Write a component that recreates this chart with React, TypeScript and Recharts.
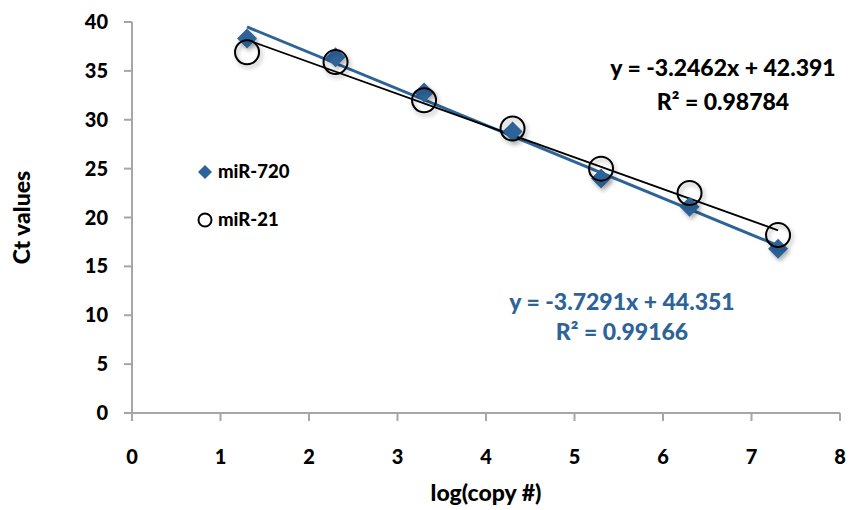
import React from 'react';
import { ComposedChart, Scatter, XAxis, YAxis, ReferenceLine, Label } from 'recharts';

const xTicks = [0, 1, 2, 3, 4, 5, 6, 7, 8];
const yTicks = [0, 5, 10, 15, 20, 25, 30, 35, 40];

const logCopies = [1.3, 2.3, 3.3, 4.3, 5.3, 6.3, 7.3];
const mir720Ct = [38.3, 36.4, 32.8, 28.8, 24.0, 21.1, 16.8];
const mir21Ct = [36.9, 35.9, 32.0, 29.1, 25.0, 22.5, 18.2];

// trendline endpoints (from the displayed regression equations)
const mir720Trend = [
  { x: 1.3, y: 39.5 },
  { x: 7.3, y: 17.13 },
];
const mir21Trend = [
  { x: 1.3, y: 38.17 },
  { x: 7.3, y: 18.69 },
];

const BLUE = '#2E6399';
const AXIS = '#A6A6A6';
const FONT = 'Lato, "Open Sans", sans-serif';
const W = 900;
const TICK_FS = 20;

const mir720Data = logCopies.map((x, i) => ({ x, y: mir720Ct[i] }));
const mir21Data = logCopies.map((x, i) => ({ x, y: mir21Ct[i] }));

const Diamond = (props: any) => {
  const { cx, cy } = props;
  const r = 10;
  return (
    <path
      d={`M${cx},${cy - r} L${cx + r},${cy} L${cx},${cy + r} L${cx - r},${cy} Z`}
      fill={BLUE}
      filter="url(#mkShadow)"
    />
  );
};

const Ring = (props: any) => {
  const { cx, cy } = props;
  return <circle cx={cx} cy={cy} r={12} fill="none" stroke="#000" strokeWidth={2} filter="url(#mkShadow)" />;
};

const XTick = (props: any) => {
  const { x, y, payload } = props;
  return (
    <text x={x} y={y + 15} textAnchor="middle" fontSize={TICK_FS} fontWeight={W} fontFamily={FONT} fill="#000">
      {payload.value}
    </text>
  );
};

const YTick = (props: any) => {
  const { x, y, payload } = props;
  return (
    <text x={x} y={y + 7} textAnchor="end" fontSize={TICK_FS} fontWeight={W} fontFamily={FONT} fill="#000">
      {payload.value}
    </text>
  );
};

export default function App() {
  return (
    <div style={{ position: 'absolute', left: 0, top: 0, width: 850, height: 510, background: '#fff' }}>
      <svg width={0} height={0} style={{ position: 'absolute' }}>
        <defs>
          <filter id="mkShadow" x="-50%" y="-50%" width="200%" height="200%">
            <feDropShadow dx={2} dy={3} stdDeviation={2} floodColor="#000" floodOpacity={0.3} />
          </filter>
        </defs>
      </svg>
      <ComposedChart width={850} height={510} margin={{ top: 22, right: 10, bottom: 0, left: 0 }}>
        <XAxis
          type="number"
          dataKey="x"
          domain={[0, 8]}
          ticks={xTicks}
          allowDataOverflow
          height={97}
          axisLine={{ stroke: AXIS, strokeWidth: 2 }}
          tickLine={{ stroke: AXIS, strokeWidth: 2 }}
          tickSize={8}
          tickMargin={28}
          tick={<XTick />}
        >
          <Label
            value="log(copy #)"
            position="insideBottom"
            offset={9}
            style={{ fill: '#000', fontSize: 23, fontWeight: W, fontFamily: FONT }}
          />
        </XAxis>
        <YAxis
          type="number"
          dataKey="y"
          domain={[0, 40]}
          ticks={yTicks}
          allowDataOverflow
          width={132}
          axisLine={{ stroke: AXIS, strokeWidth: 2 }}
          tickLine={{ stroke: AXIS, strokeWidth: 2 }}
          tickSize={8}
          tickMargin={16}
          tick={<YTick />}
        >
          <Label
            value="Ct values"
            angle={-90}
            position="insideLeft"
            offset={22}
            style={{ fill: '#000', fontSize: 23, fontWeight: W, fontFamily: FONT, textAnchor: 'middle' }}
          />
        </YAxis>
        <Scatter name="miR-720" data={mir720Data} shape={<Diamond />} isAnimationActive={false} />
        <Scatter name="miR-21" data={mir21Data} shape={<Ring />} isAnimationActive={false} />
        <ReferenceLine
          segment={mir720Trend}
          stroke={BLUE}
          strokeWidth={3}
          ifOverflow="visible"
        />
        <ReferenceLine
          segment={mir21Trend}
          stroke="#000"
          strokeWidth={1.8}
          ifOverflow="visible"
        />
      </ComposedChart>
      <svg
        width={850}
        height={510}
        style={{ position: 'absolute', left: 0, top: 0, pointerEvents: 'none' }}
        fontFamily={FONT}
        fontWeight={W}
      >
        <path d="M205,165 L212,172 L205,179 L198,172 Z" fill={BLUE} />
        <text x={218} y={178} fontSize={18.5} fill="#000">miR-720</text>
        <circle cx={205} cy={220} r={6.5} fill="#fff" stroke="#000" strokeWidth={2} />
        <text x={218} y={226} fontSize={18.5} fill="#000">miR-21</text>

        <text x={723} y={76} fontSize={23} fill="#000" textAnchor="middle">y = -3.2462x + 42.391</text>
        <text x={723} y={110} fontSize={23} fill="#000" textAnchor="middle">R² = 0.98784</text>

        <text x={622} y={310} fontSize={23} fill={BLUE} textAnchor="middle">y = -3.7291x + 44.351</text>
        <text x={622} y={340} fontSize={23} fill={BLUE} textAnchor="middle">R² = 0.99166</text>
      </svg>
    </div>
  );
}
